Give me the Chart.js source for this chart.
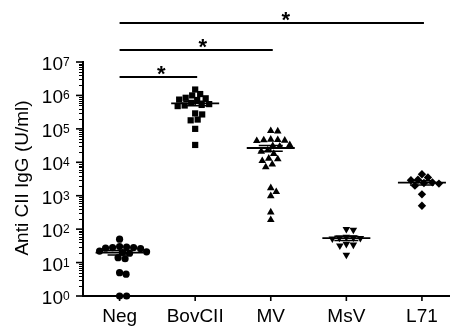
<!DOCTYPE html>
<html>
<head>
<meta charset="utf-8">
<script src="https://cdn.jsdelivr.net/npm/chart.js@4/dist/chart.umd.min.js"></script>
<style>
  body { margin: 0; background: #fff; }
  canvas { display: block; }
</style>
</head>
<body>
<canvas id="grafico" width="454" height="326"></canvas>
<script>
// valores (U/ml)
const categorias = ['Neg', 'BovCII', 'MV', 'MsV', 'L71'];
const neg = [50, 30, 29, 28, 28, 27, 26, 22, 21, 20, 19, 14, 13, 5, 4.5, 1, 1];
const bovcii = [1.5e6, 1.1e6, 1.0e6, 8.5e5, 8.2e5, 7.5e5, 7.3e5, 6e5, 5.5e5, 5.2e5, 5e5, 4.8e5, 2.9e5, 2.7e5, 1.9e5, 1.8e5, 1e5, 3.3e4];
const mv = [8.7e4, 8.5e4, 4.8e4, 4.7e4, 4.6e4, 4.5e4, 4.4e4, 3.3e4, 3.1e4, 3e4, 2.3e4, 2.1e4, 1.8e4, 1.3e4, 1.25e4, 1.1e4, 8.7e3, 7.2e3, 1.7e3, 1.3e3, 980, 320, 190];
const msv = [100, 95, 58, 56, 55, 54, 52, 36, 34, 32, 17];
const l71 = [4.4e3, 3.5e3, 3e3, 2.9e3, 2.5e3, 2.4e3, 2.3e3, 2e3, 1.1e3, 500];
const expoentes = [0, 1, 2, 3, 4, 5, 6, 7];
// comparacoes com asterisco: [de, ate]
const comparacoes = [[0, 4], [0, 2], [0, 1]];

const grupos = [neg, bovcii, mv, msv, l71];
const estilos = [
  { pointStyle: 'circle', radius: 3.6, rotation: 0 },
  { pointStyle: 'rect', radius: 4.4, rotation: 0 },
  { pointStyle: 'triangle', radius: 4.4, rotation: 0 },
  { pointStyle: 'triangle', radius: 4.4, rotation: 180 },
  { pointStyle: 'rectRot', radius: 4.2, rotation: 0 }
];
const FONTE = '"Liberation Sans", Arial, sans-serif';

function media(v) { return v.reduce((a, b) => a + b, 0) / v.length; }
function epm(v) {
  const m = media(v);
  const dp = Math.sqrt(v.reduce((a, b) => a + (b - m) * (b - m), 0) / (v.length - 1));
  return dp / Math.sqrt(v.length);
}

const desenhos = {
  id: 'desenhos',
  afterDraw(chart) {
    const ctx = chart.ctx;
    const xs = chart.scales.x, ys = chart.scales.y;
    const area = chart.chartArea;
    ctx.save();
    ctx.strokeStyle = '#000';
    ctx.fillStyle = '#000';

    // ticks do eixo y (maiores e menores)
    expoentes.forEach(e => {
      const py = ys.getPixelForValue(Math.pow(10, e));
      ctx.lineWidth = 1.6;
      ctx.beginPath(); ctx.moveTo(area.left - 7, py); ctx.lineTo(area.left, py); ctx.stroke();
      if (e < 7) {
        ctx.lineWidth = 1;
        for (let m = 2; m <= 9; m++) {
          const pm = Math.round(ys.getPixelForValue(m * Math.pow(10, e))) + 0.5;
          ctx.beginPath(); ctx.moveTo(area.left - 4, pm); ctx.lineTo(area.left, pm); ctx.stroke();
        }
      }
      ctx.font = '19px ' + FONTE;
      ctx.textAlign = 'right';
      ctx.textBaseline = 'alphabetic';
      ctx.fillText('10', area.left - 20, py + 8);
      ctx.font = '12px ' + FONTE;
      ctx.textAlign = 'left';
      ctx.fillText(String(e), area.left - 20, py + 4);
    });

    // ticks e rotulos do eixo x
    ctx.font = '19px ' + FONTE;
    ctx.textAlign = 'center';
    categorias.forEach((c, i) => {
      const px = xs.getPixelForValue(i);
      ctx.lineWidth = 1.6;
      ctx.beginPath(); ctx.moveTo(px, area.bottom); ctx.lineTo(px, area.bottom + 5); ctx.stroke();
      ctx.fillText(c, px, area.bottom + 26);
    });

    // titulo do eixo y
    ctx.save();
    ctx.translate(23, 178);
    ctx.rotate(-Math.PI / 2);
    ctx.textBaseline = 'middle';
    ctx.fillText('Anti CII IgG (U/ml)', 0, 0);
    ctx.restore();

    // media e erro padrao
    grupos.forEach((g, i) => {
      const px = xs.getPixelForValue(i);
      const m = media(g), s = epm(g);
      const pm = ys.getPixelForValue(m);
      const pa = ys.getPixelForValue(m + s);
      const pb = ys.getPixelForValue(Math.max(m - s, 1e-3));
      ctx.lineWidth = 1.8;
      ctx.beginPath(); ctx.moveTo(px - 24, pm); ctx.lineTo(px + 24, pm); ctx.stroke();
      ctx.lineWidth = 1.5;
      ctx.beginPath();
      ctx.moveTo(px - 12, pa); ctx.lineTo(px + 12, pa);
      ctx.moveTo(px - 12, pb); ctx.lineTo(px + 12, pb);
      ctx.moveTo(px, pa); ctx.lineTo(px, pb);
      ctx.stroke();
    });

    // barras de significancia
    comparacoes.forEach((c, k) => {
      const py = area.top - 39 + k * 27;
      const x1 = xs.getPixelForValue(c[0]), x2 = xs.getPixelForValue(c[1]);
      ctx.lineWidth = 2;
      ctx.beginPath(); ctx.moveTo(x1, py); ctx.lineTo(x2 + 2, py); ctx.stroke();
      ctx.font = 'bold 22px ' + FONTE;
      ctx.textAlign = 'center';
      ctx.textBaseline = 'alphabetic';
      ctx.fillText('*', x1 + (x2 - x1) * 0.55, py + 4);
    });
    ctx.restore();
  }
};

const grafico = new Chart(document.getElementById('grafico'), {
  type: 'scatter',
  data: {
    datasets: grupos.map((g, i) => ({
      label: categorias[i],
      data: g.map(v => ({ x: i, y: v })),
      pointStyle: estilos[i].pointStyle,
      pointRadius: estilos[i].radius,
      rotation: estilos[i].rotation,
      backgroundColor: '#000',
      borderColor: '#000',
      borderWidth: 0,
      clip: false
    }))
  },
  options: {
    responsive: false,
    animation: false,
    layout: { padding: { top: 62, left: 0, right: 0, bottom: 0 } },
    plugins: { legend: { display: false }, tooltip: { enabled: false } },
    scales: {
      x: {
        type: 'linear',
        min: -0.484,
        max: 4.366,
        grid: { display: false },
        ticks: { display: false },
        border: { display: true, color: '#000', width: 2 },
        afterFit(s) { s.height = 30; }
      },
      y: {
        type: 'logarithmic',
        min: 1,
        max: 1e7,
        grid: { display: false },
        ticks: { display: false },
        border: { display: true, color: '#000', width: 2 },
        afterFit(s) { s.width = 83; }
      }
    }
  },
  plugins: [desenhos]
});

// espalha os pontos (beeswarm) usando as escalas do grafico
function espalhar(chart) {
  const xs = chart.scales.x, ys = chart.scales.y;
  const unidade = xs.getPixelForValue(1) - xs.getPixelForValue(0);
  const d = 6.6;
  chart.data.datasets.forEach((ds, i) => {
    const vals = grupos[i];
    const ordem = vals.map((v, j) => j).sort((a, b) => vals[b] - vals[a]);
    const colocados = [];
    const desloc = [];
    ordem.forEach(j => {
      const py = ys.getPixelForValue(vals[j]);
      for (let k = 0; k < 400; k++) {
        const cand = (k % 2 ? 1 : -1) * Math.ceil(k / 2) * 0.5;
        if (colocados.every(p => Math.hypot(p[0] - cand, p[1] - py) >= d)) {
          colocados.push([cand, py]);
          desloc[j] = cand;
          break;
        }
      }
    });
    ds.data = vals.map((v, j) => ({ x: i + desloc[j] / unidade, y: v }));
  });
  chart.update('none');
}
espalhar(grafico);
</script>
</body>
</html>
